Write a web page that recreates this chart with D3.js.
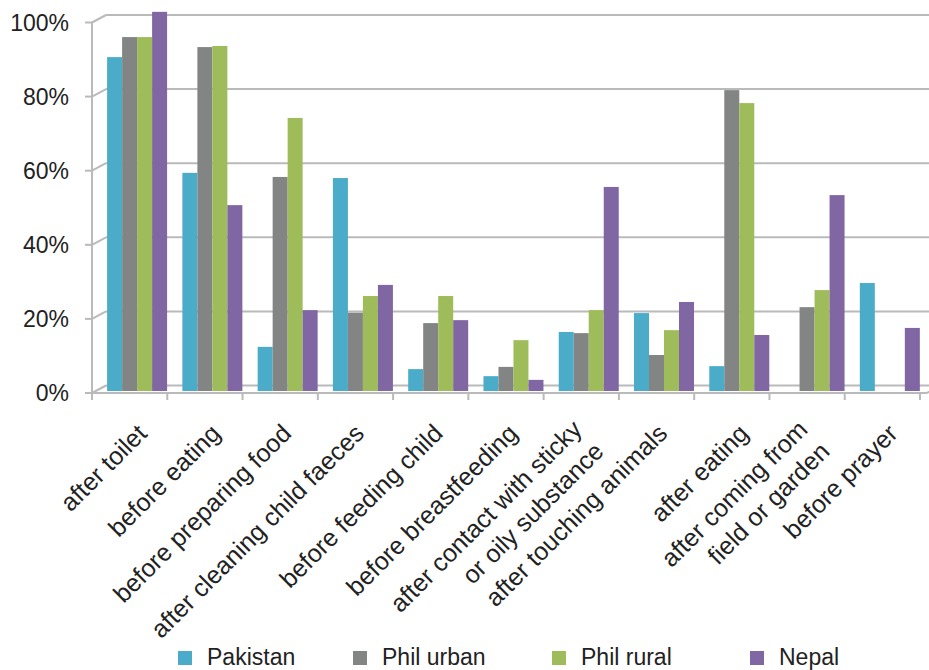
<!DOCTYPE html>
<html>
<head>
<meta charset="utf-8">
<script src="https://cdn.jsdelivr.net/npm/d3@7"></script>
<style>
  html, body { margin: 0; padding: 0; background: #fff; }
  svg { display: block; }
  text { font-family: "Liberation Sans", Arial, sans-serif; fill: #222; }
</style>
</head>
<body>
<svg id="chart" width="929" height="670"></svg>
<script>
// ---- data ----
const categories = [
  "after toilet", "before eating", "before preparing food",
  "after cleaning child faeces", "before feeding child", "before breastfeeding",
  "after contact with sticky\nor oily substance", "after touching animals",
  "after eating", "after coming from\nfield or garden", "before prayer"
];
const seriesNames = ["Pakistan", "Phil urban", "Phil rural", "Nepal"];
const pakistan  = [90.0, 58.8, 11.9, 57.4,  5.9,  4.0, 15.9, 21.0,  6.7,  0.0, 29.1];
const philUrban = [95.4, 92.7, 57.7, 21.1, 18.3,  6.5, 15.6,  9.7, 81.1, 22.6,  0.0];
const philRural = [95.4, 93.0, 73.6, 25.6, 25.6, 13.7, 21.8, 16.4, 77.6, 27.2,  0.0];
const nepal     = [102.2, 50.1, 21.8, 28.6, 19.1, 3.0, 55.0, 24.0, 15.1, 52.8, 17.0];
const yTicks = [0, 20, 40, 60, 80, 100];
const yTickLabels = ["0%", "20%", "40%", "60%", "80%", "100%"];
const colors = ["#4bacc9", "#838584", "#9ebd5a", "#8066a3"];

const seriesValues = [pakistan, philUrban, philRural, nepal];

const svg = d3.select("#chart");
const W = 929, H = 670;

// geometry (pseudo-3D like the original)
const frontLeft = 92, frontRight = 920;
const depthX = 14, depthY = 7.5;
const gridColor = "#bababa";

const yFront = d3.scaleLinear().domain([0, 100]).range([393, 22.5]);
const yBar = d3.scaleLinear().domain([0, 100]).range([391, 20]);

const xFront = d3.scaleBand().domain(categories).range([frontLeft, frontRight]).padding(0);
const x0 = d3.scaleBand().domain(categories).range([frontLeft + 7.5, frontRight + 7.5]).padding(0);
const x1 = d3.scaleBand().domain(seriesNames).range([7.6, 67.6]).padding(0);

const g = svg.append("g");

// back gridlines + diagonals + tick marks
yTicks.forEach(t => {
  const yf = yFront(t);
  g.append("line").attr("x1", frontLeft + depthX).attr("x2", W + 10)
    .attr("y1", yf - depthY).attr("y2", yf - depthY)
    .attr("stroke", gridColor).attr("stroke-width", 2);
  g.append("line").attr("x1", frontLeft).attr("y1", yf)
    .attr("x2", frontLeft + depthX).attr("y2", yf - depthY)
    .attr("stroke", gridColor).attr("stroke-width", 2);
  g.append("line").attr("x1", frontLeft - 7).attr("x2", frontLeft)
    .attr("y1", yf).attr("y2", yf)
    .attr("stroke", gridColor).attr("stroke-width", 2);
});

// bars
const rows = categories.map((c, i) => ({ c, vals: seriesNames.map((s, j) => ({ s, j, v: seriesValues[j][i] })) }));
const groups = g.selectAll("g.grp").data(rows).enter().append("g")
  .attr("class", "grp")
  .attr("transform", d => `translate(${x0(d.c)},0)`);
groups.selectAll("rect").data(d => d.vals.filter(e => e.v > 0)).enter().append("rect")
  .attr("x", e => x1(e.s))
  .attr("width", x1.bandwidth())
  .attr("y", e => yBar(e.v))
  .attr("height", e => yBar(0) - yBar(e.v))
  .attr("fill", e => colors[e.j]);

// front axes
g.append("line").attr("x1", frontLeft).attr("x2", frontLeft)
  .attr("y1", yFront(100)).attr("y2", 400)
  .attr("stroke", gridColor).attr("stroke-width", 2);
g.append("line").attr("x1", frontLeft).attr("x2", frontRight + 7)
  .attr("y1", yFront(0)).attr("y2", yFront(0))
  .attr("stroke", gridColor).attr("stroke-width", 2);
g.append("line").attr("x1", frontRight + 7).attr("y1", yFront(0))
  .attr("x2", frontRight + 7 + depthX).attr("y2", yFront(0) - depthY)
  .attr("stroke", gridColor).attr("stroke-width", 2);
const boundaries = categories.map(c => xFront(c)).concat([frontRight]);
boundaries.forEach(bx => {
  g.append("line").attr("x1", bx).attr("x2", bx)
    .attr("y1", yFront(0)).attr("y2", 400)
    .attr("stroke", gridColor).attr("stroke-width", 2);
});

// y tick labels
g.selectAll("text.ylab").data(yTicks).enter().append("text")
  .attr("class", "ylab")
  .attr("x", 69)
  .attr("y", t => yFront(t))
  .attr("dy", "0.36em")
  .attr("text-anchor", "end")
  .attr("font-size", 23)
  .text((t, i) => yTickLabels[i]);

// x labels (rotated -45), anchored at the baseline end
categories.forEach(c => {
  const lines = c.split("\n");
  const cx = xFront(c) + xFront.bandwidth() / 2;
  const t = g.append("text")
    .attr("text-anchor", "end")
    .attr("font-size", 25);
  lines.forEach((ln, k) => {
    t.append("tspan").attr("x", 0).attr("dy", k === 0 ? 0 : "1.24em").text(ln);
  });
  let ex, ey;
  if (lines.length > 1) {
    ex = cx + 2; ey = 431;
  } else {
    const em = t.node().getComputedTextLength() / 25;
    ex = cx + 24 - 1.2 * em; ey = 435;
  }
  t.attr("transform", `translate(${ex},${ey}) rotate(-45)`);
});

// legend
const legendX = [178, 353, 552, 750];
seriesNames.forEach((s, j) => {
  g.append("rect").attr("x", legendX[j]).attr("y", 651)
    .attr("width", 14).attr("height", 14).attr("fill", colors[j]);
  g.append("text").attr("x", legendX[j] + 29).attr("y", 665)
    .attr("font-size", 23).text(s);
});
</script>
</body>
</html>
